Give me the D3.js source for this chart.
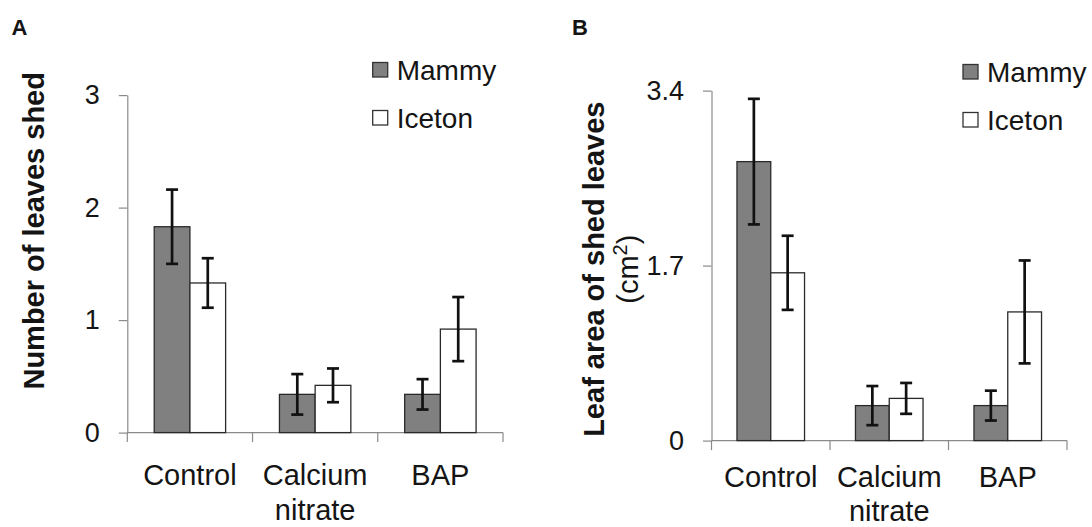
<!DOCTYPE html>
<html>
<head>
<meta charset="utf-8">
<script src="https://cdn.jsdelivr.net/npm/d3@7"></script>
<style>
  html, body { margin: 0; padding: 0; background: #fff; }
  svg { display: block; font-family: "Liberation Sans", Arial, sans-serif; }
</style>
</head>
<body>
<svg id="chart" width="1092" height="527"></svg>
<script>
// Treatments and cultivars
const categories = ["Control", "Calcium nitrate", "BAP"];
const series = ["Mammy", "Iceton"];

// Panel A: number of leaves shed (mean and error)
const leavesMammy = [1.83, 0.34, 0.34];
const leavesMammyErr = [0.33, 0.18, 0.135];
const leavesIceton = [1.33, 0.42, 0.92];
const leavesIcetonErr = [0.22, 0.15, 0.285];
const leavesTicks = [0, 1, 2, 3];

// Panel B: leaf area of shed leaves, cm² (mean and error)
const areaMammy = [2.71, 0.34, 0.34];
const areaMammyErr = [0.61, 0.19, 0.145];
const areaIceton = [1.63, 0.41, 1.25];
const areaIcetonErr = [0.36, 0.15, 0.50];
const areaTicks = [0, 1.7, 3.4];

const fills = { Mammy: "#808080", Iceton: "#ffffff" };
const textColor = "#141414";
const axisColor = "#8a8a8a";
const barStroke = "#2a2a2a";

const svg = d3.select("#chart");
svg.append("rect").attr("width", 1092).attr("height", 527).attr("fill", "#fff");

function drawPanel(opt) {
  const g = svg.append("g");
  const y = d3.scaleLinear().domain([0, opt.yMax]).range([opt.y0, opt.yTop]);
  const x = d3.scaleBand().domain(categories).range([opt.x0, opt.x1]).paddingInner(0).paddingOuter(0);
  const xs = d3.scaleBand().domain(series).range([0, x.bandwidth()]).paddingInner(0).paddingOuter(0.754);

  const rows = categories.map((c, i) => ({
    cat: c,
    vals: series.map(s => ({ s, v: opt.values[s][i], e: opt.errors[s][i] }))
  }));

  // y axis
  const yAxis = d3.axisLeft(y).tickValues(opt.ticks).tickFormat(opt.fmt)
    .tickSize(8.5).tickSizeOuter(0).tickPadding(19);
  const ya = g.append("g").attr("transform", `translate(${opt.x0},0)`).call(yAxis);
  ya.select(".domain").attr("stroke", axisColor).attr("stroke-width", 1.2);
  ya.selectAll(".tick line").attr("stroke", axisColor).attr("stroke-width", 1.2);
  ya.selectAll(".tick text").attr("fill", textColor).attr("font-size", 27)
    .attr("font-family", "Liberation Sans, Arial, sans-serif");

  // x axis line and category boundary ticks
  g.append("line").attr("x1", opt.x0).attr("x2", opt.x1).attr("y1", y(0)).attr("y2", y(0))
    .attr("stroke", axisColor).attr("stroke-width", 1.2);
  const bounds = categories.map(c => x(c)).concat([x.range()[1]]);
  g.selectAll(".xb").data(bounds).join("line")
    .attr("x1", d => d).attr("x2", d => d)
    .attr("y1", y(0)).attr("y2", y(0) + 9.5)
    .attr("stroke", axisColor).attr("stroke-width", 1.2);

  // category labels (wrapped at spaces)
  const lab = g.selectAll(".cl").data(categories).join("text")
    .attr("text-anchor", "middle").attr("font-size", 29).attr("fill", textColor)
    .attr("x", d => x(d) + x.bandwidth() / 2)
    .attr("y", y(0) + opt.labelOffset);
  lab.selectAll("tspan").data(d => d.split(" ")).join("tspan")
    .attr("x", function () { return d3.select(this.parentNode).attr("x"); })
    .attr("dy", (d, i) => i === 0 ? 0 : opt.lineGap)
    .text(d => d);

  // bars
  const grp = g.selectAll(".grp").data(rows).join("g")
    .attr("transform", d => `translate(${x(d.cat)},0)`);
  grp.selectAll("rect").data(d => d.vals).join("rect")
    .attr("x", d => xs(d.s)).attr("width", xs.bandwidth())
    .attr("y", d => y(d.v)).attr("height", d => y(0) - y(d.v))
    .attr("fill", d => fills[d.s]).attr("stroke", barStroke).attr("stroke-width", 1.3);

  // error bars
  const eb = grp.selectAll(".eb").data(d => d.vals).join("g")
    .attr("transform", d => `translate(${xs(d.s) + xs.bandwidth() / 2},0)`);
  eb.append("line").attr("y1", d => y(d.v + d.e)).attr("y2", d => y(d.v - d.e))
    .attr("stroke", "#111").attr("stroke-width", 2.7);
  eb.append("line").attr("x1", -6).attr("x2", 6).attr("y1", d => y(d.v + d.e)).attr("y2", d => y(d.v + d.e))
    .attr("stroke", "#111").attr("stroke-width", 2.7);
  eb.append("line").attr("x1", -6).attr("x2", 6).attr("y1", d => y(d.v - d.e)).attr("y2", d => y(d.v - d.e))
    .attr("stroke", "#111").attr("stroke-width", 2.7);

  // legend
  const lg = g.selectAll(".lg").data(series).join("g")
    .attr("transform", (d, i) => `translate(${opt.legX},${opt.legY + i * 48})`);
  lg.append("rect").attr("x", 0).attr("y", -17.5).attr("width", 15).attr("height", 14.5)
    .attr("fill", d => fills[d]).attr("stroke", "#333").attr("stroke-width", 1.3);
  lg.append("text").attr("x", 24).attr("y", 0).attr("font-size", 28).attr("fill", textColor).text(d => d);

  // panel letter
  g.append("text").attr("x", opt.letterX).attr("y", 35).attr("font-size", 22).attr("font-weight", "bold")
    .attr("fill", textColor).text(opt.letter);

  // y title
  opt.title.forEach(t => {
    const tx = g.append("text").attr("transform", `translate(${t.x},${opt.titleY}) rotate(-90)`)
      .attr("text-anchor", "middle").attr("font-size", 29).attr("font-weight", t.bold ? "bold" : "normal")
      .attr("fill", textColor);
    if (t.sup) {
      tx.append("tspan").text(t.text);
      tx.append("tspan").attr("font-size", 20).attr("dy", -11).text(t.sup);
      tx.append("tspan").attr("dy", 11).text(t.tail);
    } else {
      tx.text(t.text);
    }
  });
}

drawPanel({
  letter: "A", letterX: 11.5,
  x0: 127.3, x1: 503, y0: 432.6, yTop: 95.1, yMax: 3,
  ticks: leavesTicks, fmt: d3.format("d"),
  values: { Mammy: leavesMammy, Iceton: leavesIceton },
  errors: { Mammy: leavesMammyErr, Iceton: leavesIcetonErr },
  legX: 372.7, legY: 80, labelOffset: 52.5, lineGap: 35,
  titleY: 230.8,
  title: [{ text: "Number of leaves shed", x: 44.3, bold: true }]
});

drawPanel({
  letter: "B", letterX: 572,
  x0: 711.5, x1: 1067, y0: 440.6, yTop: 90.6, yMax: 3.4,
  ticks: areaTicks, fmt: d => d === 0 ? "0" : d3.format(".1f")(d),
  values: { Mammy: areaMammy, Iceton: areaIceton },
  errors: { Mammy: areaMammyErr, Iceton: areaIcetonErr },
  legX: 963, legY: 82, labelOffset: 46.5, lineGap: 33.5,
  titleY: 269.2,
  title: [{ text: "Leaf area of shed leaves", x: 604.3, bold: true },
          { text: "(cm", sup: "2", tail: ")", x: 638.2, bold: false }]
});
</script>
</body>
</html>
